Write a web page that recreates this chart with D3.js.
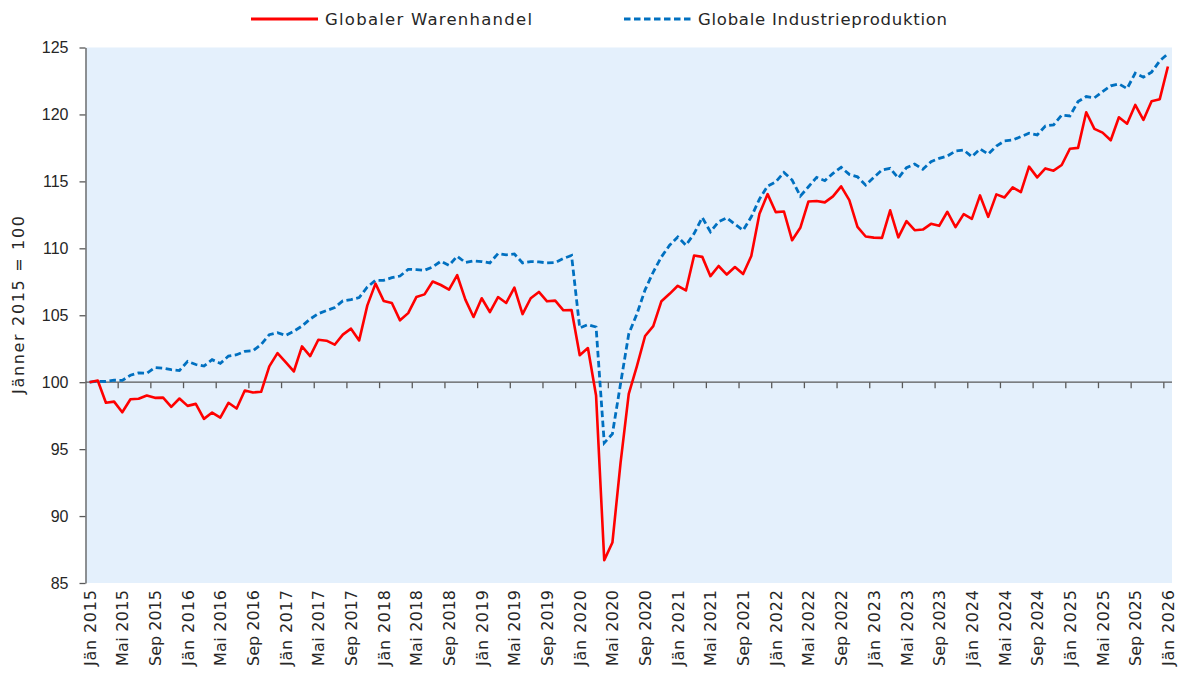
<!DOCTYPE html>
<html>
<head>
<meta charset="utf-8">
<script src="https://cdn.jsdelivr.net/npm/d3@7"></script>
<style>
  body { margin: 0; background: #fff; }
  svg { display: block; font-family: 'DejaVu Sans', sans-serif; }
</style>
</head>
<body>
<div id="chart"></div>
<script>
// Monthly index, Jän 2015 = 100 (Jän 2015 .. Jän 2026)
const warenhandel = [
  100.0, 100.13, 98.46, 98.55, 97.75, 98.73, 98.76, 99.0, 98.83, 98.85, 98.16, 98.78,
  98.23, 98.38, 97.26, 97.73, 97.36, 98.46, 98.03, 99.38, 99.23, 99.28, 101.18, 102.17,
  101.5, 100.8, 102.67, 101.95, 103.17, 103.1, 102.8, 103.55, 104.0, 103.12, 105.74, 107.36,
  106.07, 105.92, 104.62, 105.16, 106.36, 106.56, 107.52, 107.26, 106.92, 107.99, 106.17, 104.87,
  106.27, 105.24, 106.36, 105.92, 107.07, 105.09, 106.27, 106.74, 106.04, 106.09, 105.37, 105.39,
  102.02, 102.55, 99.0, 86.71, 88.02, 94.0, 99.13, 101.2, 103.45, 104.19, 106.05, 106.6,
  107.2, 106.85, 109.46, 109.36, 107.92, 108.68, 108.04, 108.6, 108.08, 109.43, 112.58, 114.05,
  112.7, 112.75, 110.6, 111.53, 113.5, 113.53, 113.43, 113.88, 114.63, 113.6, 111.6, 110.88,
  110.8, 110.78, 112.84, 110.82, 112.03, 111.35, 111.4, 111.83, 111.68, 112.73, 111.58, 112.55,
  112.2, 113.95, 112.35, 114.03, 113.8, 114.55, 114.2, 116.1, 115.3, 115.97, 115.8, 116.22,
  117.44, 117.5, 120.16, 118.92, 118.64, 118.07, 119.79, 119.31, 120.71, 119.59, 120.99, 121.14,
  123.58
];

const industrie = [
  100.0, 100.07, 100.05, 100.15, 100.13, 100.52, 100.7, 100.67, 101.1, 101.05, 100.93, 100.87,
  101.55, 101.32, 101.2, 101.68, 101.4, 101.95, 102.05, 102.3, 102.35, 102.82, 103.55, 103.7,
  103.5, 103.8, 104.19, 104.72, 105.12, 105.35, 105.57, 106.07, 106.17, 106.32, 107.11, 107.61,
  107.61, 107.81, 107.93, 108.43, 108.41, 108.36, 108.61, 109.03, 108.73, 109.41, 108.94, 109.06,
  109.01, 108.91, 109.61, 109.51, 109.58, 108.91, 109.01, 108.98, 108.91, 108.94, 109.24, 109.46,
  104.05, 104.3, 104.12, 95.46, 96.14, 99.9, 103.6, 105.1, 106.9, 108.23, 109.36, 110.23,
  110.85, 110.23, 111.1, 112.3, 111.23, 111.98, 112.28, 111.8, 111.35, 112.35, 113.68, 114.65,
  114.97, 115.67, 115.1, 113.9, 114.6, 115.3, 115.05, 115.6, 116.05, 115.52, 115.34, 114.72,
  115.3, 115.85, 115.97, 115.25, 116.02, 116.3, 115.9, 116.47, 116.72, 116.89, 117.27, 117.34,
  116.84, 117.42, 117.04, 117.64, 118.02, 118.09, 118.34, 118.59, 118.47, 119.14, 119.22, 119.96,
  119.89, 120.96, 121.34, 121.24, 121.71, 122.13, 122.28, 121.93, 123.08, 122.78, 123.16, 124.0,
  124.53
];

// every 4th month gets a label
const xTickLabels = [
  'Jän 2015', 'Mai 2015', 'Sep 2015', 'Jän 2016', 'Mai 2016', 'Sep 2016',
  'Jän 2017', 'Mai 2017', 'Sep 2017', 'Jän 2018', 'Mai 2018', 'Sep 2018',
  'Jän 2019', 'Mai 2019', 'Sep 2019', 'Jän 2020', 'Mai 2020', 'Sep 2020',
  'Jän 2021', 'Mai 2021', 'Sep 2021', 'Jän 2022', 'Mai 2022', 'Sep 2022',
  'Jän 2023', 'Mai 2023', 'Sep 2023', 'Jän 2024', 'Mai 2024', 'Sep 2024',
  'Jän 2025', 'Mai 2025', 'Sep 2025', 'Jän 2026'
];
const yTicks = [85, 90, 95, 100, 105, 110, 115, 120, 125];

const seriesNames = ['Globaler Warenhandel', 'Globale Industrieproduktion'];

const width = 1179;
const height = 677;
const margin = { top: 47.5, right: 7, bottom: 94, left: 85.5 };
const axisColor = '#595959';
const textColor = '#262626';

const svg = d3.select('#chart')
  .append('svg')
  .attr('width', width)
  .attr('height', height);

const n = warenhandel.length;
const x = d3.scaleBand()
  .domain(d3.range(n))
  .range([margin.left, width - margin.right]);
const xc = (i) => x(i) + x.bandwidth() / 2;

const y = d3.scaleLinear()
  .domain([85, 125])
  .range([height - margin.bottom, margin.top]);

// plot background
svg.append('rect')
  .attr('x', margin.left)
  .attr('y', margin.top)
  .attr('width', width - margin.right - margin.left)
  .attr('height', y(85) - margin.top)
  .attr('fill', '#e4f0fc');

// y axis
const yAxis = svg.append('g')
  .attr('transform', `translate(${margin.left},0)`)
  .call(d3.axisLeft(y).tickValues(yTicks).tickSize(6).tickSizeOuter(0));
yAxis.select('.domain').attr('stroke', axisColor).attr('stroke-width', 1.3);
yAxis.selectAll('.tick line').attr('stroke', axisColor).attr('stroke-width', 1.3);
yAxis.selectAll('.tick text')
  .attr('x', -17)
  .attr('fill', textColor)
  .style('font-size', '16px');

svg.append('text')
  .attr('transform', 'translate(24,305) rotate(-90)')
  .attr('text-anchor', 'middle')
  .attr('fill', textColor)
  .style('font-size', '16px')
  .attr('textLength', 178)
  .attr('lengthAdjust', 'spacing')
  .text('Jänner 2015 = 100');

// horizontal axis line at 100 with ticks between categories
const baseY = y(100);
svg.append('line')
  .attr('x1', margin.left)
  .attr('x2', width - margin.right)
  .attr('y1', baseY)
  .attr('y2', baseY)
  .attr('stroke', axisColor)
  .attr('stroke-width', 1.3);

const tickIdx = d3.range(0, n + 1, 4).filter((i) => i > 0);
svg.append('g')
  .selectAll('line')
  .data(tickIdx)
  .join('line')
  .attr('x1', (i) => (i < n ? x(i) : width - margin.right))
  .attr('x2', (i) => (i < n ? x(i) : width - margin.right))
  .attr('y1', baseY)
  .attr('y2', baseY + 6)
  .attr('stroke', axisColor)
  .attr('stroke-width', 1.3);

// x labels under the plot, rotated
svg.append('g')
  .selectAll('text')
  .data(xTickLabels)
  .join('text')
  .attr('transform', (d, k) => `translate(${xc(k * 4) + 6},${y(85) + 7}) rotate(-90)`)
  .attr('text-anchor', 'end')
  .attr('fill', textColor)
  .style('font-size', '16px')
  .attr('textLength', 76)
  .attr('lengthAdjust', 'spacing')
  .text((d) => d);

// lines
const line = d3.line()
  .x((d, i) => xc(i))
  .y((d) => y(d));

svg.append('path')
  .datum(industrie)
  .attr('fill', 'none')
  .attr('stroke', '#0070c0')
  .attr('stroke-width', 2.8)
  .attr('stroke-dasharray', '6.5,3.5')
  .attr('d', line);

svg.append('path')
  .datum(warenhandel)
  .attr('fill', 'none')
  .attr('stroke', '#ff0000')
  .attr('stroke-width', 2.6)
  .attr('stroke-linejoin', 'round')
  .attr('d', line);

// legend
const legend = [
  { name: seriesNames[0], color: '#ff0000', dash: null, x0: 251, len: 207 },
  { name: seriesNames[1], color: '#0070c0', dash: '6.5,3.5', x0: 624, len: 249 }
];
const lg = svg.append('g')
  .selectAll('g')
  .data(legend)
  .join('g')
  .attr('transform', (d) => `translate(${d.x0},19)`);
lg.append('line')
  .attr('x1', 0)
  .attr('x2', 67)
  .attr('stroke', (d) => d.color)
  .attr('stroke-width', 2.8)
  .attr('stroke-dasharray', (d) => d.dash);
lg.append('text')
  .attr('x', 74)
  .attr('dy', '0.36em')
  .attr('fill', textColor)
  .style('font-size', '16.5px')
  .attr('textLength', (d) => d.len)
  .attr('lengthAdjust', 'spacing')
  .text((d) => d.name);
</script>
</body>
</html>
